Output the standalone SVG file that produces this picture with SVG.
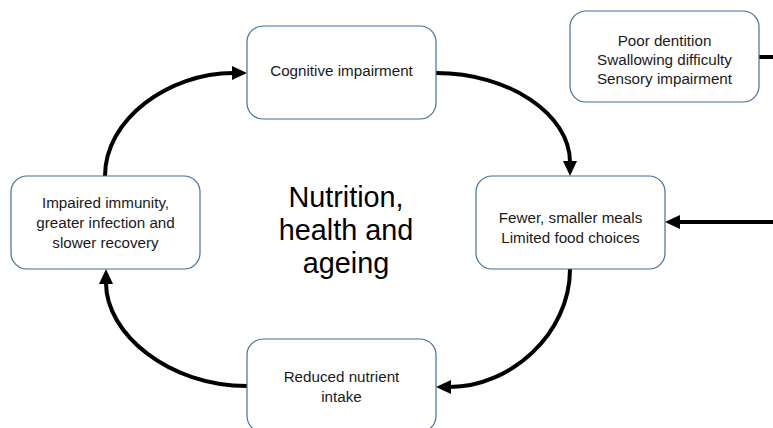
<svg xmlns="http://www.w3.org/2000/svg" width="773" height="428" viewBox="0 0 773 428">
<style>
.box{fill:#fff;stroke:#41719C;stroke-width:1.2}
.t{font-family:"Liberation Sans",Arial,sans-serif;font-size:15.2px;fill:#1a1a1a;text-anchor:middle}
.big{font-family:"Liberation Sans",Arial,sans-serif;font-size:28.8px;fill:#000;text-anchor:middle}
.c{fill:none;stroke:#000;stroke-width:4}
</style>
<defs>
<marker id="ah" markerUnits="userSpaceOnUse" markerWidth="18" markerHeight="18" viewBox="0 -9 18 18" refX="1" refY="0" orient="auto">
<path d="M0,-7 L15,0 L0,7 z" fill="#000"/>
</marker>
</defs>
<rect width="773" height="428" fill="#fff"/>
<g id="connectors">
<path class="c" d="M105,176 C105,119 169,73 233,73" marker-end="url(#ah)"/>
<path class="c" d="M436,73 C510,73 570,115 570,162" marker-end="url(#ah)"/>
<path class="c" d="M570,269 C570,334 510,387 450,387" marker-end="url(#ah)"/>
<path class="c" d="M247,386 C169,386 106,334 106,283" marker-end="url(#ah)"/>
<path class="c" d="M759,57 L790,57 L790,222 L679,222" marker-end="url(#ah)"/>
</g>
<g id="cognitive">
<rect class="box" x="247" y="26" width="189" height="93" rx="16"/>
<text class="t" x="341.5" y="76">Cognitive impairment</text>
</g>
<g id="dentition">
<rect class="box" x="570" y="11" width="189" height="91" rx="16"/>
<text class="t" x="664.5" y="46">Poor dentition</text>
<text class="t" x="664.5" y="65">Swallowing difficulty</text>
<text class="t" x="664.5" y="84">Sensory impairment</text>
</g>
<g id="fewer">
<rect class="box" x="476" y="176" width="189" height="93" rx="16"/>
<text class="t" x="570.5" y="223">Fewer, smaller meals</text>
<text class="t" x="570.5" y="243">Limited food choices</text>
</g>
<g id="reduced">
<rect class="box" x="247" y="339" width="189" height="93" rx="16"/>
<text class="t" x="341.5" y="382">Reduced nutrient</text>
<text class="t" x="341.5" y="402">intake</text>
</g>
<g id="impaired">
<rect class="box" x="11" y="176" width="189" height="93" rx="16"/>
<text class="t" x="105.5" y="208">Impaired immunity,</text>
<text class="t" x="105.5" y="228">greater infection and</text>
<text class="t" x="105.5" y="248">slower recovery</text>
</g>
<g id="center">
<text class="big" x="346" y="207">Nutrition,</text>
<text class="big" x="346" y="240">health and</text>
<text class="big" x="346" y="273">ageing</text>
</g>
</svg>
